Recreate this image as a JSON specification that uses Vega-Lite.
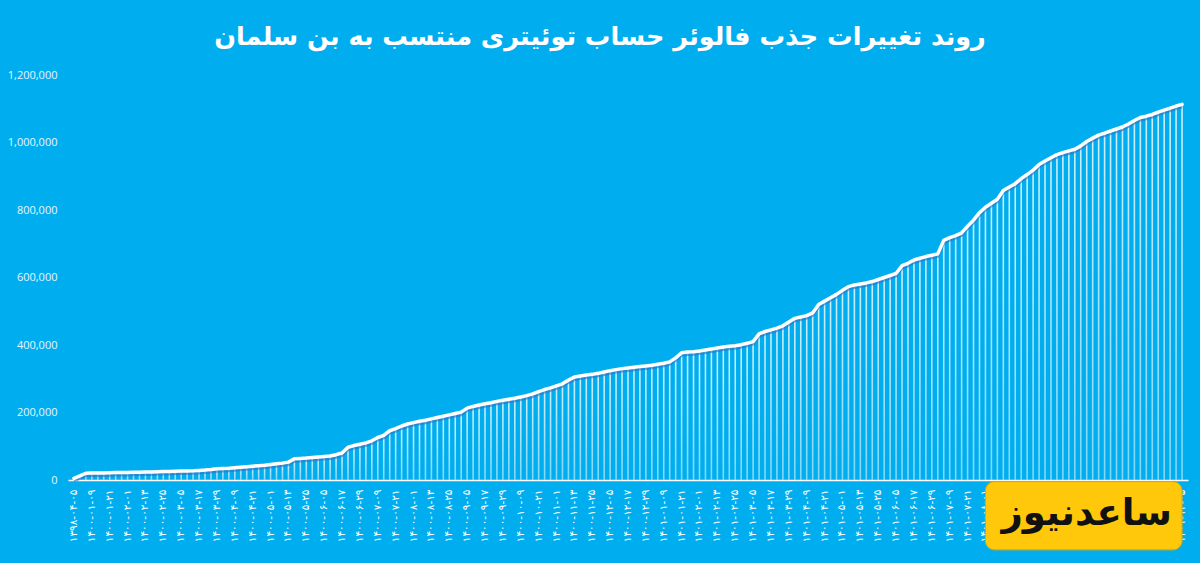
{
  "$schema": "https://vega.github.io/schema/vega-lite/v6.json",
  "width": 1120,
  "height": 405,
  "autosize": {"type": "none"},
  "padding": {"left": 68, "top": 75, "right": 12, "bottom": 83},
  "background": "#00AEEF",
  "title": {
    "text": "روند تغییرات جذب فالوئر حساب توئیتری منتسب به بن سلمان",
    "font": "DejaVu Sans",
    "fontSize": 25.5,
    "fontWeight": "bold",
    "color": "#ffffff",
    "anchor": "middle",
    "frame": "group",
    "dx": -28,
    "offset": 19
  },
  "config": {"view": {"stroke": null}},
  "data": {"values": [
    {"date": "۱۳۹۸-۰۴-۰۵", "followers": 5000},
    {"date": "۱۴۰۰-۰۱-۰۱", "followers": 12000},
    {"date": "۱۴۰۰-۰۱-۰۵", "followers": 20000},
    {"date": "۱۴۰۰-۰۱-۰۹", "followers": 20500},
    {"date": "۱۴۰۰-۰۱-۱۳", "followers": 21000},
    {"date": "۱۴۰۰-۰۱-۱۷", "followers": 21000},
    {"date": "۱۴۰۰-۰۱-۲۱", "followers": 21500},
    {"date": "۱۴۰۰-۰۱-۲۵", "followers": 22000},
    {"date": "۱۴۰۰-۰۱-۲۹", "followers": 22000},
    {"date": "۱۴۰۰-۰۲-۰۱", "followers": 22500},
    {"date": "۱۴۰۰-۰۲-۰۵", "followers": 23000},
    {"date": "۱۴۰۰-۰۲-۰۹", "followers": 23000},
    {"date": "۱۴۰۰-۰۲-۱۳", "followers": 23500},
    {"date": "۱۴۰۰-۰۲-۱۷", "followers": 24000},
    {"date": "۱۴۰۰-۰۲-۲۱", "followers": 24500},
    {"date": "۱۴۰۰-۰۲-۲۵", "followers": 25000},
    {"date": "۱۴۰۰-۰۲-۲۹", "followers": 25500},
    {"date": "۱۴۰۰-۰۳-۰۱", "followers": 26000},
    {"date": "۱۴۰۰-۰۳-۰۵", "followers": 26500},
    {"date": "۱۴۰۰-۰۳-۰۹", "followers": 27000},
    {"date": "۱۴۰۰-۰۳-۱۳", "followers": 27500},
    {"date": "۱۴۰۰-۰۳-۱۷", "followers": 28500},
    {"date": "۱۴۰۰-۰۳-۲۱", "followers": 29500},
    {"date": "۱۴۰۰-۰۳-۲۵", "followers": 31000},
    {"date": "۱۴۰۰-۰۳-۲۹", "followers": 33000},
    {"date": "۱۴۰۰-۰۴-۰۱", "followers": 34000},
    {"date": "۱۴۰۰-۰۴-۰۵", "followers": 35000},
    {"date": "۱۴۰۰-۰۴-۰۹", "followers": 36500},
    {"date": "۱۴۰۰-۰۴-۱۳", "followers": 38000},
    {"date": "۱۴۰۰-۰۴-۱۷", "followers": 39500},
    {"date": "۱۴۰۰-۰۴-۲۱", "followers": 41000},
    {"date": "۱۴۰۰-۰۴-۲۵", "followers": 42500},
    {"date": "۱۴۰۰-۰۴-۲۹", "followers": 44000},
    {"date": "۱۴۰۰-۰۵-۰۱", "followers": 46000},
    {"date": "۱۴۰۰-۰۵-۰۵", "followers": 48000},
    {"date": "۱۴۰۰-۰۵-۰۹", "followers": 50000},
    {"date": "۱۴۰۰-۰۵-۱۳", "followers": 53000},
    {"date": "۱۴۰۰-۰۵-۱۷", "followers": 63000},
    {"date": "۱۴۰۰-۰۵-۲۱", "followers": 64000},
    {"date": "۱۴۰۰-۰۵-۲۵", "followers": 65000},
    {"date": "۱۴۰۰-۰۵-۲۹", "followers": 66500},
    {"date": "۱۴۰۰-۰۶-۰۱", "followers": 68000},
    {"date": "۱۴۰۰-۰۶-۰۵", "followers": 69500},
    {"date": "۱۴۰۰-۰۶-۰۹", "followers": 71000},
    {"date": "۱۴۰۰-۰۶-۱۳", "followers": 75000},
    {"date": "۱۴۰۰-۰۶-۱۷", "followers": 80000},
    {"date": "۱۴۰۰-۰۶-۲۱", "followers": 97000},
    {"date": "۱۴۰۰-۰۶-۲۵", "followers": 102000},
    {"date": "۱۴۰۰-۰۶-۲۹", "followers": 106000},
    {"date": "۱۴۰۰-۰۷-۰۱", "followers": 110000},
    {"date": "۱۴۰۰-۰۷-۰۵", "followers": 116000},
    {"date": "۱۴۰۰-۰۷-۰۹", "followers": 126000},
    {"date": "۱۴۰۰-۰۷-۱۳", "followers": 132000},
    {"date": "۱۴۰۰-۰۷-۱۷", "followers": 146000},
    {"date": "۱۴۰۰-۰۷-۲۱", "followers": 152000},
    {"date": "۱۴۰۰-۰۷-۲۵", "followers": 160000},
    {"date": "۱۴۰۰-۰۷-۲۹", "followers": 166000},
    {"date": "۱۴۰۰-۰۸-۰۱", "followers": 170000},
    {"date": "۱۴۰۰-۰۸-۰۵", "followers": 174000},
    {"date": "۱۴۰۰-۰۸-۰۹", "followers": 177000},
    {"date": "۱۴۰۰-۰۸-۱۳", "followers": 181000},
    {"date": "۱۴۰۰-۰۸-۱۷", "followers": 185000},
    {"date": "۱۴۰۰-۰۸-۲۱", "followers": 189000},
    {"date": "۱۴۰۰-۰۸-۲۵", "followers": 193000},
    {"date": "۱۴۰۰-۰۸-۲۹", "followers": 197000},
    {"date": "۱۴۰۰-۰۹-۰۱", "followers": 201000},
    {"date": "۱۴۰۰-۰۹-۰۵", "followers": 213000},
    {"date": "۱۴۰۰-۰۹-۰۹", "followers": 218000},
    {"date": "۱۴۰۰-۰۹-۱۳", "followers": 222000},
    {"date": "۱۴۰۰-۰۹-۱۷", "followers": 226000},
    {"date": "۱۴۰۰-۰۹-۲۱", "followers": 229000},
    {"date": "۱۴۰۰-۰۹-۲۵", "followers": 233000},
    {"date": "۱۴۰۰-۰۹-۲۹", "followers": 236000},
    {"date": "۱۴۰۰-۱۰-۰۱", "followers": 239000},
    {"date": "۱۴۰۰-۱۰-۰۵", "followers": 242000},
    {"date": "۱۴۰۰-۱۰-۰۹", "followers": 246000},
    {"date": "۱۴۰۰-۱۰-۱۳", "followers": 250000},
    {"date": "۱۴۰۰-۱۰-۱۷", "followers": 255000},
    {"date": "۱۴۰۰-۱۰-۲۱", "followers": 262000},
    {"date": "۱۴۰۰-۱۰-۲۵", "followers": 268000},
    {"date": "۱۴۰۰-۱۰-۲۹", "followers": 273000},
    {"date": "۱۴۰۰-۱۱-۰۱", "followers": 279000},
    {"date": "۱۴۰۰-۱۱-۰۵", "followers": 285000},
    {"date": "۱۴۰۰-۱۱-۰۹", "followers": 296000},
    {"date": "۱۴۰۰-۱۱-۱۳", "followers": 305000},
    {"date": "۱۴۰۰-۱۱-۱۷", "followers": 308000},
    {"date": "۱۴۰۰-۱۱-۲۱", "followers": 311000},
    {"date": "۱۴۰۰-۱۱-۲۵", "followers": 313000},
    {"date": "۱۴۰۰-۱۱-۲۹", "followers": 316000},
    {"date": "۱۴۰۰-۱۲-۰۱", "followers": 320000},
    {"date": "۱۴۰۰-۱۲-۰۵", "followers": 324000},
    {"date": "۱۴۰۰-۱۲-۰۹", "followers": 327000},
    {"date": "۱۴۰۰-۱۲-۱۳", "followers": 330000},
    {"date": "۱۴۰۰-۱۲-۱۷", "followers": 332000},
    {"date": "۱۴۰۰-۱۲-۲۱", "followers": 334000},
    {"date": "۱۴۰۰-۱۲-۲۵", "followers": 336000},
    {"date": "۱۴۰۰-۱۲-۲۹", "followers": 338000},
    {"date": "۱۴۰۱-۰۱-۰۱", "followers": 340000},
    {"date": "۱۴۰۱-۰۱-۰۵", "followers": 343000},
    {"date": "۱۴۰۱-۰۱-۰۹", "followers": 346000},
    {"date": "۱۴۰۱-۰۱-۱۳", "followers": 350000},
    {"date": "۱۴۰۱-۰۱-۱۷", "followers": 362000},
    {"date": "۱۴۰۱-۰۱-۲۱", "followers": 377000},
    {"date": "۱۴۰۱-۰۱-۲۵", "followers": 379000},
    {"date": "۱۴۰۱-۰۱-۲۹", "followers": 380000},
    {"date": "۱۴۰۱-۰۲-۰۱", "followers": 382000},
    {"date": "۱۴۰۱-۰۲-۰۵", "followers": 385000},
    {"date": "۱۴۰۱-۰۲-۰۹", "followers": 388000},
    {"date": "۱۴۰۱-۰۲-۱۳", "followers": 391000},
    {"date": "۱۴۰۱-۰۲-۱۷", "followers": 394000},
    {"date": "۱۴۰۱-۰۲-۲۱", "followers": 396000},
    {"date": "۱۴۰۱-۰۲-۲۵", "followers": 398000},
    {"date": "۱۴۰۱-۰۲-۲۹", "followers": 401000},
    {"date": "۱۴۰۱-۰۳-۰۱", "followers": 405000},
    {"date": "۱۴۰۱-۰۳-۰۵", "followers": 410000},
    {"date": "۱۴۰۱-۰۳-۰۹", "followers": 433000},
    {"date": "۱۴۰۱-۰۳-۱۳", "followers": 440000},
    {"date": "۱۴۰۱-۰۳-۱۷", "followers": 445000},
    {"date": "۱۴۰۱-۰۳-۲۱", "followers": 450000},
    {"date": "۱۴۰۱-۰۳-۲۵", "followers": 457000},
    {"date": "۱۴۰۱-۰۳-۲۹", "followers": 468000},
    {"date": "۱۴۰۱-۰۴-۰۱", "followers": 479000},
    {"date": "۱۴۰۱-۰۴-۰۵", "followers": 483000},
    {"date": "۱۴۰۱-۰۴-۰۹", "followers": 487000},
    {"date": "۱۴۰۱-۰۴-۱۳", "followers": 495000},
    {"date": "۱۴۰۱-۰۴-۱۷", "followers": 520000},
    {"date": "۱۴۰۱-۰۴-۲۱", "followers": 530000},
    {"date": "۱۴۰۱-۰۴-۲۵", "followers": 540000},
    {"date": "۱۴۰۱-۰۴-۲۹", "followers": 550000},
    {"date": "۱۴۰۱-۰۵-۰۱", "followers": 562000},
    {"date": "۱۴۰۱-۰۵-۰۵", "followers": 573000},
    {"date": "۱۴۰۱-۰۵-۰۹", "followers": 578000},
    {"date": "۱۴۰۱-۰۵-۱۳", "followers": 581000},
    {"date": "۱۴۰۱-۰۵-۱۷", "followers": 584000},
    {"date": "۱۴۰۱-۰۵-۲۱", "followers": 588000},
    {"date": "۱۴۰۱-۰۵-۲۵", "followers": 594000},
    {"date": "۱۴۰۱-۰۵-۲۹", "followers": 600000},
    {"date": "۱۴۰۱-۰۶-۰۱", "followers": 606000},
    {"date": "۱۴۰۱-۰۶-۰۵", "followers": 612000},
    {"date": "۱۴۰۱-۰۶-۰۹", "followers": 635000},
    {"date": "۱۴۰۱-۰۶-۱۳", "followers": 642000},
    {"date": "۱۴۰۱-۰۶-۱۷", "followers": 652000},
    {"date": "۱۴۰۱-۰۶-۲۱", "followers": 657000},
    {"date": "۱۴۰۱-۰۶-۲۵", "followers": 662000},
    {"date": "۱۴۰۱-۰۶-۲۹", "followers": 666000},
    {"date": "۱۴۰۱-۰۷-۰۱", "followers": 670000},
    {"date": "۱۴۰۱-۰۷-۰۵", "followers": 710000},
    {"date": "۱۴۰۱-۰۷-۰۹", "followers": 718000},
    {"date": "۱۴۰۱-۰۷-۱۳", "followers": 724000},
    {"date": "۱۴۰۱-۰۷-۱۷", "followers": 732000},
    {"date": "۱۴۰۱-۰۷-۲۱", "followers": 752000},
    {"date": "۱۴۰۱-۰۷-۲۵", "followers": 770000},
    {"date": "۱۴۰۱-۰۷-۲۹", "followers": 792000},
    {"date": "۱۴۰۱-۰۸-۰۱", "followers": 808000},
    {"date": "۱۴۰۱-۰۸-۰۵", "followers": 820000},
    {"date": "۱۴۰۱-۰۸-۰۹", "followers": 832000},
    {"date": "۱۴۰۱-۰۸-۱۳", "followers": 858000},
    {"date": "۱۴۰۱-۰۸-۱۷", "followers": 868000},
    {"date": "۱۴۰۱-۰۸-۲۱", "followers": 878000},
    {"date": "۱۴۰۱-۰۸-۲۵", "followers": 893000},
    {"date": "۱۴۰۱-۰۸-۲۹", "followers": 905000},
    {"date": "۱۴۰۱-۰۹-۰۱", "followers": 918000},
    {"date": "۱۴۰۱-۰۹-۰۵", "followers": 935000},
    {"date": "۱۴۰۱-۰۹-۰۹", "followers": 945000},
    {"date": "۱۴۰۱-۰۹-۱۳", "followers": 955000},
    {"date": "۱۴۰۱-۰۹-۱۷", "followers": 964000},
    {"date": "۱۴۰۱-۰۹-۲۱", "followers": 970000},
    {"date": "۱۴۰۱-۰۹-۲۵", "followers": 975000},
    {"date": "۱۴۰۱-۰۹-۲۹", "followers": 980000},
    {"date": "۱۴۰۱-۱۰-۰۱", "followers": 990000},
    {"date": "۱۴۰۱-۱۰-۰۵", "followers": 1003000},
    {"date": "۱۴۰۱-۱۰-۰۹", "followers": 1013000},
    {"date": "۱۴۰۱-۱۰-۱۳", "followers": 1022000},
    {"date": "۱۴۰۱-۱۰-۱۷", "followers": 1028000},
    {"date": "۱۴۰۱-۱۰-۲۱", "followers": 1034000},
    {"date": "۱۴۰۱-۱۰-۲۵", "followers": 1040000},
    {"date": "۱۴۰۱-۱۰-۲۹", "followers": 1046000},
    {"date": "۱۴۰۱-۱۱-۰۱", "followers": 1055000},
    {"date": "۱۴۰۱-۱۱-۰۵", "followers": 1065000},
    {"date": "۱۴۰۱-۱۱-۰۹", "followers": 1074000},
    {"date": "۱۴۰۱-۱۱-۱۳", "followers": 1078000},
    {"date": "۱۴۰۱-۱۱-۱۷", "followers": 1083000},
    {"date": "۱۴۰۱-۱۱-۲۱", "followers": 1090000},
    {"date": "۱۴۰۱-۱۱-۲۵", "followers": 1096000},
    {"date": "۱۴۰۱-۱۱-۲۹", "followers": 1102000},
    {"date": "۱۴۰۱-۱۲-۰۱", "followers": 1108000},
    {"date": "۱۴۰۱-۱۲-۰۵", "followers": 1113000}
  ]},
  "layer": [
    {
      "mark": {
        "type": "bar",
        "size": 1.6,
        "color": {
          "gradient": "linear",
          "x1": 0, "y1": 0, "x2": 0, "y2": 1,
          "stops": [
            {"offset": 0, "color": "#ffffff"},
            {"offset": 1, "color": "#9fe0fa"}
          ]
        },
        "opacity": 0.8
      },
      "encoding": {
        "x": {
          "field": "date",
          "type": "ordinal",
          "sort": null,
          "scale": {"paddingInner": 0, "paddingOuter": 0.5},
          "axis": {
            "title": null,
            "values": ["۱۳۹۸-۰۴-۰۵", "۱۴۰۰-۰۱-۰۹", "۱۴۰۰-۰۱-۲۱", "۱۴۰۰-۰۲-۰۱", "۱۴۰۰-۰۲-۱۳", "۱۴۰۰-۰۲-۲۵", "۱۴۰۰-۰۳-۰۵", "۱۴۰۰-۰۳-۱۷", "۱۴۰۰-۰۳-۲۹", "۱۴۰۰-۰۴-۰۹", "۱۴۰۰-۰۴-۲۱", "۱۴۰۰-۰۵-۰۱", "۱۴۰۰-۰۵-۱۳", "۱۴۰۰-۰۵-۲۵", "۱۴۰۰-۰۶-۰۵", "۱۴۰۰-۰۶-۱۷", "۱۴۰۰-۰۶-۲۹", "۱۴۰۰-۰۷-۰۹", "۱۴۰۰-۰۷-۲۱", "۱۴۰۰-۰۸-۰۱", "۱۴۰۰-۰۸-۱۳", "۱۴۰۰-۰۸-۲۵", "۱۴۰۰-۰۹-۰۵", "۱۴۰۰-۰۹-۱۷", "۱۴۰۰-۰۹-۲۹", "۱۴۰۰-۱۰-۰۹", "۱۴۰۰-۱۰-۲۱", "۱۴۰۰-۱۱-۰۱", "۱۴۰۰-۱۱-۱۳", "۱۴۰۰-۱۱-۲۵", "۱۴۰۰-۱۲-۰۵", "۱۴۰۰-۱۲-۱۷", "۱۴۰۰-۱۲-۲۹", "۱۴۰۱-۰۱-۰۹", "۱۴۰۱-۰۱-۲۱", "۱۴۰۱-۰۲-۰۱", "۱۴۰۱-۰۲-۱۳", "۱۴۰۱-۰۲-۲۵", "۱۴۰۱-۰۳-۰۵", "۱۴۰۱-۰۳-۱۷", "۱۴۰۱-۰۳-۲۹", "۱۴۰۱-۰۴-۰۹", "۱۴۰۱-۰۴-۲۱", "۱۴۰۱-۰۵-۰۱", "۱۴۰۱-۰۵-۱۳", "۱۴۰۱-۰۵-۲۵", "۱۴۰۱-۰۶-۰۵", "۱۴۰۱-۰۶-۱۷", "۱۴۰۱-۰۶-۲۹", "۱۴۰۱-۰۷-۰۹", "۱۴۰۱-۰۷-۲۱", "۱۴۰۱-۰۸-۰۱", "۱۴۰۱-۰۸-۱۳", "۱۴۰۱-۰۸-۲۵", "۱۴۰۱-۰۹-۰۵", "۱۴۰۱-۰۹-۱۷", "۱۴۰۱-۰۹-۲۹", "۱۴۰۱-۱۰-۰۹", "۱۴۰۱-۱۰-۲۱", "۱۴۰۱-۱۱-۰۱", "۱۴۰۱-۱۱-۱۳", "۱۴۰۱-۱۱-۲۵", "۱۴۰۱-۱۲-۰۵"],
            "labelAngle": -90,
            "labelAlign": "right",
            "labelBaseline": "middle",
            "labelColor": "#ffffff",
            "labelFont": "DejaVu Sans",
            "labelFontSize": 10.5,
            "labelPadding": 9,
            "labelOverlap": false,
            "ticks": false,
            "domainColor": "#ffffff",
            "domainWidth": 1.5,
            "grid": false
          }
        },
        "y": {
          "field": "followers",
          "type": "quantitative",
          "scale": {"domain": [0, 1200000], "nice": false},
          "axis": {
            "title": null,
            "values": [0, 200000, 400000, 600000, 800000, 1000000, 1200000],
            "format": ",.0f",
            "labelColor": "#e6f5ff",
            "labelFont": "Open Sans",
            "labelFontSize": 11,
            "labelPadding": 11,
            "ticks": false,
            "domain": false,
            "grid": false
          }
        }
      }
    },
    {
      "mark": {"type": "line", "color": "#2f6fc2", "strokeWidth": 3, "opacity": 0.6, "yOffset": 2.5, "strokeJoin": "round"},
      "encoding": {
        "x": {"field": "date", "type": "ordinal", "sort": null},
        "y": {"field": "followers", "type": "quantitative"}
      }
    },
    {
      "mark": {"type": "line", "color": "#ffffff", "strokeWidth": 3.5, "strokeJoin": "round", "strokeCap": "round"},
      "encoding": {
        "x": {"field": "date", "type": "ordinal", "sort": null},
        "y": {"field": "followers", "type": "quantitative"}
      }
    },
    {
      "data": {"values": [{"brand": "ساعدنیوز"}]},
      "mark": {"type": "rect", "color": "#FFC80A", "cornerRadius": 9, "stroke": "#e0a800", "strokeWidth": 1},
      "encoding": {
        "x": {"datum": "۱۴۰۱-۰۸-۰۱"},
        "x2": {"datum": "۱۴۰۱-۱۲-۰۵"},
        "y": {"datum": -5000},
        "y2": {"datum": -207000}
      }
    },
    {
      "data": {"values": [{"brand": "ساعدنیوز"}]},
      "mark": {"type": "text", "font": "DejaVu Sans", "fontSize": 37, "fontWeight": "bold", "color": "#111111", "align": "center", "baseline": "middle"},
      "encoding": {
        "x": {"datum": "۱۴۰۱-۱۰-۰۵"},
        "y": {"datum": -100000},
        "text": {"field": "brand"}
      }
    }
  ]
}
